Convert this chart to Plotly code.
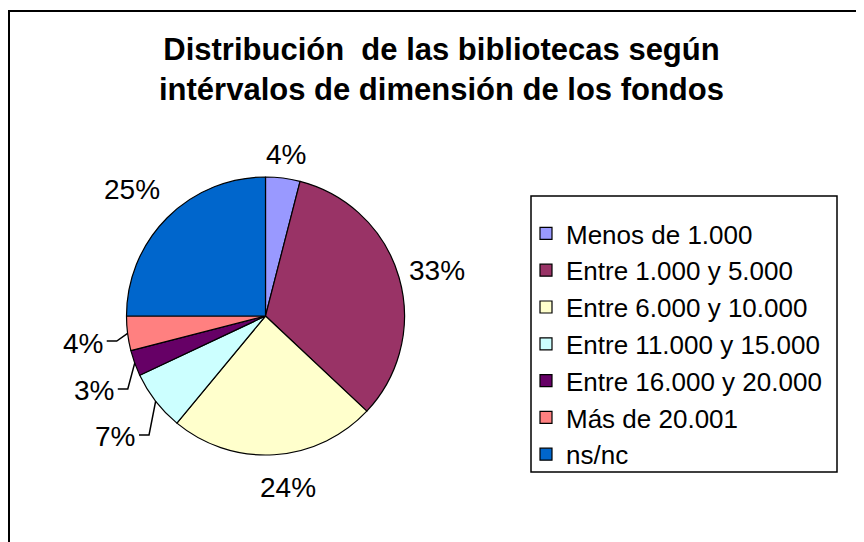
import math
import plotly.graph_objects as go

# ---- data ----
categories = ["Menos de 1.000", "Entre 1.000 y 5.000", "Entre 6.000 y 10.000",
              "Entre 11.000 y 15.000", "Entre 16.000 y 20.000", "Más de 20.001", "ns/nc"]
percentages = [4, 33, 24, 7, 3, 4, 25]
colors = ["#9999FF", "#993366", "#FFFFCC", "#CCFFFF", "#660066", "#FF8080", "#0066CC"]
title_lines = ["Distribución  de las bibliotecas según", "intérvalos de dimensión de los fondos"]

# ---- layout / style constants (pixels in the 864x542 window) ----
PAGE_OFF = 8                 # default body margin of the html page
W, H = 864 - PAGE_OFF, 542 - PAGE_OFF
CX, CY, R = 265.5, 316.0, 139.0
LABEL_FS = 28
LEGEND_FS = 26
TITLE_FS = 31
FONT = "Liberation Sans, Arial, sans-serif"
leader = [False, False, False, True, True, True, False]
label_gap = [14, 10, 16, 29, 21, 24, 18]
label_nudge_y = [0, 0, 0, 0, 9, 0, 0]
label_nudge_x = [0, 0, 12, 0, 0, 0, -3]
LABEL_DY = 4


def px(x):
    return (x - PAGE_OFF) / W


def py(y):
    return 1 - (y - PAGE_OFF) / H


fig = go.Figure(go.Pie(
    labels=categories,
    values=percentages,
    sort=False,
    direction="clockwise",
    rotation=0,
    textinfo="none",
    textposition="inside",
    hoverinfo="label+percent",
    marker=dict(colors=colors, line=dict(color="#000000", width=1.2)),
    domain=dict(x=[px(CX - R), px(CX + R)], y=[py(CY + R), py(CY - R)]),
))

annotations = []
shapes = []
total = sum(percentages)
cum = 0.0
for v, lead, gap, ny, nx in zip(percentages, leader, label_gap, label_nudge_y, label_nudge_x):
    mid = (cum + v / 2) / total * 2 * math.pi
    cum += v
    s, c = math.sin(mid), math.cos(mid)
    txt = f"{v}%"
    ndig = len(txt) - 1
    hw = (ndig * 0.556 + 0.889) * LABEL_FS / 2
    hh = 11
    clearance = abs(s) * hw + abs(c) * hh
    r_lab = R + clearance + gap
    lx = CX + r_lab * s + nx
    ly = CY - r_lab * c + LABEL_DY + ny
    annotations.append(dict(x=px(lx), y=py(ly), xref="paper", yref="paper", text=txt,
                            showarrow=False, xanchor="center", yanchor="middle",
                            font=dict(size=LABEL_FS, color="#000000", family=FONT)))
    if lead:
        ex, ey = CX + R * s, CY - R * c
        lyl = ly - 2
        x0 = lx + hw + 4
        x1 = x0 + 10
        path = f"M {px(x0)} {py(lyl)} L {px(x1)} {py(lyl)} L {px(ex)} {py(ey)}"
        shapes.append(dict(type="path", path=path, xref="paper", yref="paper",
                           line=dict(color="#000000", width=1.5)))

# chart-area frame (left and top edges visible)
shapes.append(dict(type="path", xref="paper", yref="paper",
                   path=f"M {px(9)} 0 L {px(9)} {py(11)} L 1 {py(11)}",
                   line=dict(color="#000000", width=2)))

# legend box
shapes.append(dict(type="rect", xref="paper", yref="paper",
                   x0=px(531), x1=px(837), y0=py(472), y1=py(196),
                   line=dict(color="#000000", width=1.5), fillcolor="rgba(0,0,0,0)"))

annotations.append(dict(x=px(441), y=py(30), xref="paper", yref="paper",
                        text="<b>" + "<br>".join(title_lines) + "</b>", showarrow=False,
                        xanchor="center", yanchor="top", align="center",
                        font=dict(size=TITLE_FS, color="#000000", family=FONT)))

fig.update_layout(
    width=W, height=H,
    margin=dict(l=0, r=0, t=0, b=0),
    paper_bgcolor="#FFFFFF",
    plot_bgcolor="#FFFFFF",
    font=dict(family=FONT, color="#000000"),
    showlegend=True,
    legend=dict(x=px(526), y=py(210), xanchor="left", yanchor="top",
                bgcolor="rgba(0,0,0,0)", borderwidth=0,
                font=dict(size=LEGEND_FS, color="#000000", family=FONT),
                traceorder="normal"),
    annotations=annotations,
    shapes=shapes,
)

fig.write_html("out.html")
